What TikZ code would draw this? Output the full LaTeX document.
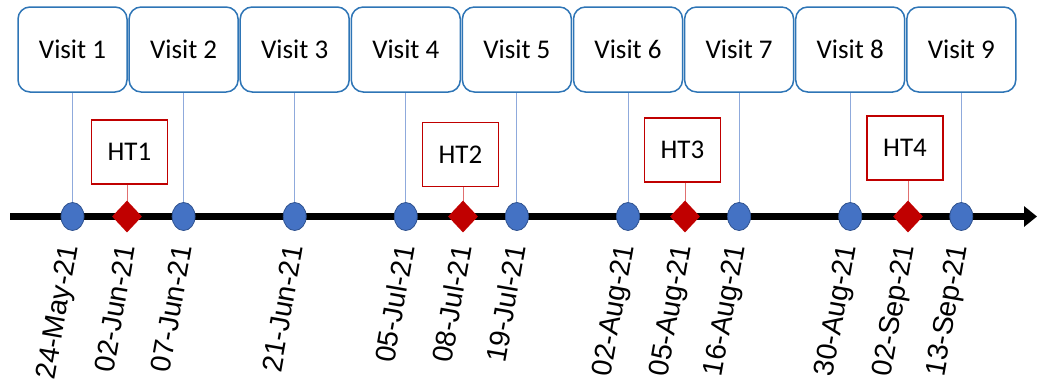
\documentclass[tikz,border=0pt]{standalone}
\usepackage{fontspec}
\setmainfont{Carlito}
\newfontfamily\datefont{Liberation Sans}
\usetikzlibrary{shapes.geometric,arrows.meta}
\definecolor{boxblue}{HTML}{2E75B6}
\definecolor{linkblue}{HTML}{8FAADC}
\definecolor{dotblue}{HTML}{4472C4}
\definecolor{dotedge}{HTML}{2F528F}
\definecolor{htred}{HTML}{C00000}
\definecolor{linkred}{HTML}{E07070}
\tikzset{
  visitbox/.style={draw=boxblue, line width=1.5pt, rounded corners=12pt, fill=white,
    minimum width=109pt, minimum height=85pt, inner sep=0pt,
    font=\fontsize{27}{32}\selectfont},
  htbox/.style={draw=htred, line width=1.3pt, fill=white,
    minimum width=76pt, minimum height=64pt, inner sep=0pt,
    font=\fontsize{27}{32}\selectfont},
  visitdot/.style={ellipse, draw=dotedge, line width=0.8pt, fill=dotblue,
    minimum width=23pt, minimum height=28pt, inner sep=0pt},
  htdiamond/.style={diamond, fill=htred, minimum width=30pt, minimum height=32pt, inner sep=0pt},
  visitlink/.style={draw=linkblue, line width=1pt},
  htlink/.style={draw=linkred, line width=1pt},
  datelabel/.style={rotate=80, anchor=east, inner sep=0pt,
    font=\datefont\fontsize{28.5}{30}\selectfont},
}
\begin{document}
\begin{tikzpicture}[x=1pt,y=-1pt]
\useasboundingbox (0,0) rectangle (1038,380);
% visit boxes
\node[visitbox] (v1) at (72.5,49.5) {Visit 1};
\node[visitbox] (v2) at (183.6,49.5) {Visit 2};
\node[visitbox] (v3) at (294.7,49.5) {Visit 3};
\node[visitbox] (v4) at (405.8,49.5) {Visit 4};
\node[visitbox] (v5) at (516.9,49.5) {Visit 5};
\node[visitbox] (v6) at (628,49.5) {Visit 6};
\node[visitbox] (v7) at (739.1,49.5) {Visit 7};
\node[visitbox] (v8) at (850.2,49.5) {Visit 8};
\node[visitbox] (v9) at (961.3,49.5) {Visit 9};
% HT boxes
\node[htbox] (h1) at (129.5,152) {HT1};
\node[htbox] (h2) at (460.5,154.5) {HT2};
\node[htbox] (h3) at (682.5,150) {HT3};
\node[htbox] (h4) at (905,148) {HT4};
% axis
\coordinate (axstart) at (10,216.5);
\coordinate (axend) at (1037,216.5);
% marker coordinates
\coordinate (p1) at (72.5,216.5);
\coordinate (p2) at (183.6,216.5);
\coordinate (p3) at (294.7,216.5);
\coordinate (p4) at (405.8,216.5);
\coordinate (p5) at (516.9,216.5);
\coordinate (p6) at (628,216.5);
\coordinate (p7) at (739.1,216.5);
\coordinate (p8) at (850.2,216.5);
\coordinate (p9) at (961.3,216.5);
\coordinate (q1) at (127,216.5);
\coordinate (q2) at (463,216.5);
\coordinate (q3) at (685,216.5);
\coordinate (q4) at (908,216.5);
% links
\foreach \i in {1,...,9} { \draw[visitlink] (v\i.south) -- (p\i); }
\draw[htlink] (h1.south -| q1) -- (q1);
\draw[htlink] (h2.south -| q2) -- (q2);
\draw[htlink] (h3.south -| q3) -- (q3);
\draw[htlink] (h4.south -| q4) -- (q4);
\draw[line width=7pt, -{Triangle[length=13pt,width=20pt]}] (axstart) -- (axend);
% markers
\foreach \i in {1,...,9} { \node[visitdot] (c\i) at (p\i) {}; }
\foreach \i in {1,...,4} { \node[htdiamond] (d\i) at (q\i) {}; }
% dates
\node[datelabel] (t1) at ([shift={(-1,28.5)}]p1) {24-May-21};
\node[datelabel] (t2) at ([shift={(-1,28.5)}]q1) {02-Jun-21};
\node[datelabel] (t3) at ([shift={(-1,28.5)}]p2) {07-Jun-21};
\node[datelabel] (t4) at ([shift={(-1,28.5)}]p3) {21-Jun-21};
\node[datelabel] (t5) at ([shift={(-1,28.5)}]p4) {05-Jul-21};
\node[datelabel] (t6) at ([shift={(-1,28.5)}]q2) {08-Jul-21};
\node[datelabel] (t7) at ([shift={(-1,28.5)}]p5) {19-Jul-21};
\node[datelabel] (t8) at ([shift={(-1,28.5)}]p6) {02-Aug-21};
\node[datelabel] (t9) at ([shift={(-1,28.5)}]q3) {05-Aug-21};
\node[datelabel] (t10) at ([shift={(-1,28.5)}]p7) {16-Aug-21};
\node[datelabel] (t11) at ([shift={(-1,28.5)}]p8) {30-Aug-21};
\node[datelabel] (t12) at ([shift={(-1,28.5)}]q4) {02-Sep-21};
\node[datelabel] (t13) at ([shift={(-1,28.5)}]p9) {13-Sep-21};
\end{tikzpicture}
\end{document}
